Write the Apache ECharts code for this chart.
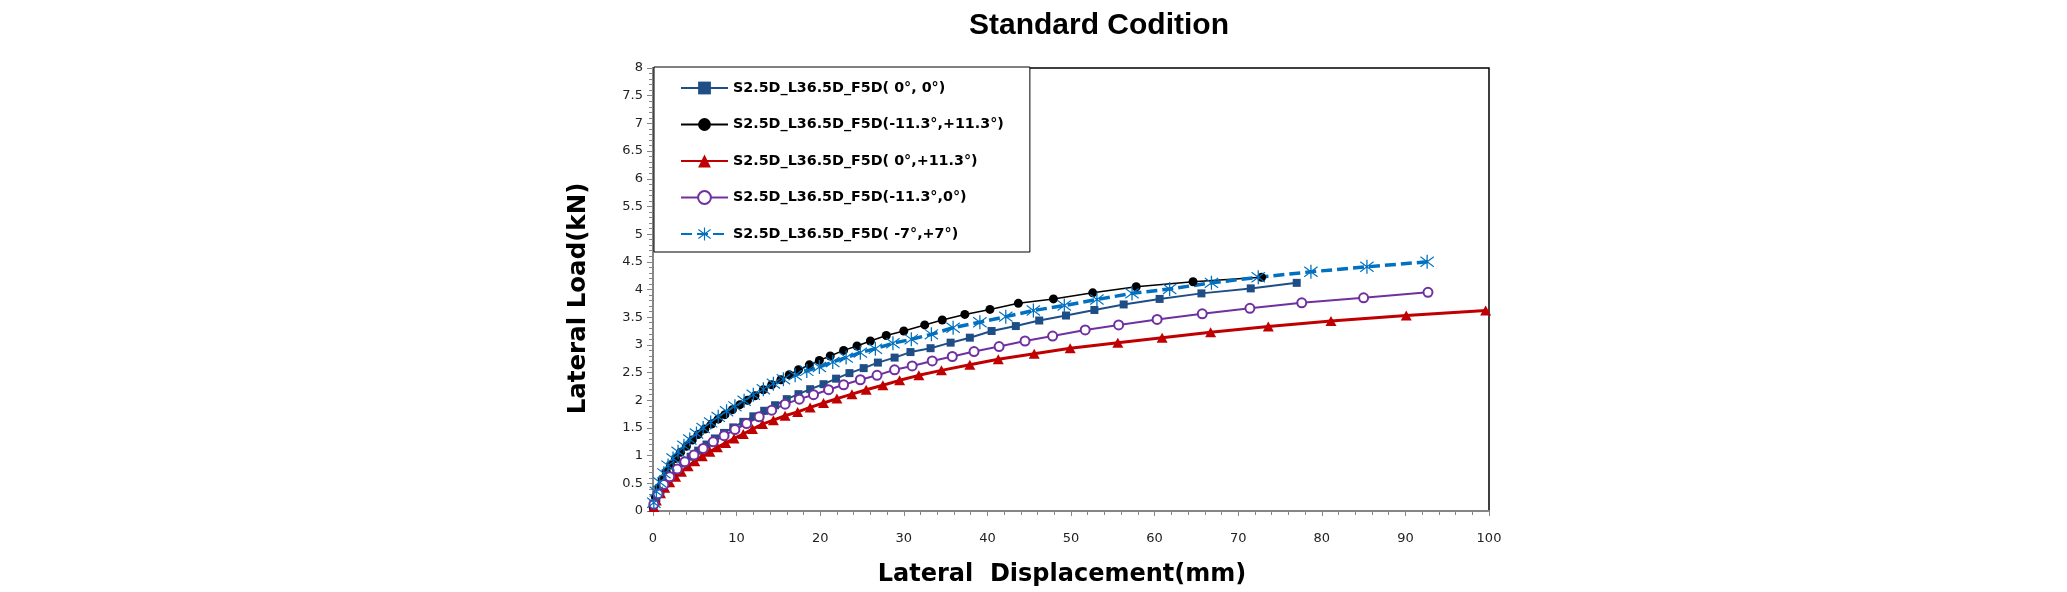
<!DOCTYPE html>
<html>
<head>
<meta charset="utf-8">
<title>Standard Codition</title>
<script src="https://cdn.jsdelivr.net/npm/echarts/dist/echarts.min.js"></script>
<style>
  html, body { margin: 0; padding: 0; background: #fff; }
  #chart { width: 2067px; height: 592px; }
</style>
</head>
<body>
<div id="chart"></div>
<script>
// series names (legend order)
const names = [
  'S2.5D_L36.5D_F5D( 0°, 0°)',
  'S2.5D_L36.5D_F5D(-11.3°,+11.3°)',
  'S2.5D_L36.5D_F5D( 0°,+11.3°)',
  'S2.5D_L36.5D_F5D(-11.3°,0°)',
  'S2.5D_L36.5D_F5D( -7°,+7°)'
]

// ( 0°, 0°) - squares
const sqX = [0, 0.4, 0.9, 1.5, 2.1, 2.8, 3.6, 4.5, 5.4, 6.4, 7.4, 8.5, 9.6, 10.8, 12.0, 13.3, 14.6, 16.0, 17.4, 18.8, 20.4, 21.9, 23.5, 25.2, 26.9, 28.9, 30.8, 33.2, 35.6, 37.9, 40.5, 43.4, 46.2, 49.4, 52.8, 56.3, 60.6, 65.6, 71.5, 77.0]
const sqY = [0.08, 0.23, 0.37, 0.50, 0.62, 0.74, 0.86, 0.98, 1.09, 1.20, 1.31, 1.41, 1.51, 1.61, 1.71, 1.81, 1.91, 2.02, 2.11, 2.20, 2.29, 2.39, 2.49, 2.58, 2.68, 2.77, 2.87, 2.94, 3.04, 3.13, 3.25, 3.34, 3.44, 3.53, 3.63, 3.73, 3.83, 3.93, 4.02, 4.12]

// (-11.3°,+11.3°) - black circles
const bkX = [0, 0.3, 0.7, 1.1, 1.6, 2.1, 2.7, 3.3, 4.0, 4.7, 5.4, 6.2, 7.0, 7.8, 8.6, 9.5, 10.4, 11.3, 12.2, 13.2, 14.2, 15.3, 16.3, 17.4, 18.7, 19.9, 21.2, 22.8, 24.4, 26.0, 27.9, 30.0, 32.5, 34.6, 37.3, 40.3, 43.7, 47.9, 52.6, 57.8, 64.6, 72.8]
const bkY = [0.08, 0.25, 0.42, 0.56, 0.70, 0.83, 0.95, 1.06, 1.17, 1.28, 1.38, 1.48, 1.57, 1.66, 1.74, 1.83, 1.92, 2.00, 2.08, 2.19, 2.28, 2.37, 2.46, 2.55, 2.64, 2.72, 2.80, 2.90, 2.98, 3.07, 3.17, 3.25, 3.36, 3.45, 3.55, 3.64, 3.75, 3.83, 3.94, 4.05, 4.14, 4.22]

// ( 0°,+11.3°) - red triangles
const rdX = [0.1, 0.4, 0.9, 1.4, 2.0, 2.7, 3.4, 4.2, 5.0, 5.9, 6.8, 7.7, 8.7, 9.7, 10.8, 11.9, 13.1, 14.4, 15.8, 17.3, 18.8, 20.4, 22.0, 23.8, 25.5, 27.5, 29.5, 31.8, 34.5, 37.9, 41.3, 45.6, 49.9, 55.6, 60.9, 66.7, 73.6, 81.1, 90.1, 99.6]
const rdY = [0.07, 0.19, 0.32, 0.42, 0.52, 0.62, 0.71, 0.81, 0.90, 0.99, 1.07, 1.15, 1.23, 1.31, 1.39, 1.48, 1.57, 1.64, 1.72, 1.79, 1.87, 1.95, 2.03, 2.11, 2.19, 2.27, 2.36, 2.45, 2.54, 2.64, 2.74, 2.84, 2.94, 3.04, 3.13, 3.23, 3.33, 3.43, 3.53, 3.62]

// (-11.3°,0°) - purple open circles
const ppX = [0.1, 0.6, 1.3, 2.0, 2.9, 3.8, 4.9, 6.0, 7.2, 8.5, 9.8, 11.2, 12.7, 14.2, 15.8, 17.5, 19.2, 21.0, 22.8, 24.8, 26.8, 28.9, 31.0, 33.4, 35.8, 38.4, 41.4, 44.5, 47.8, 51.7, 55.7, 60.3, 65.7, 71.4, 77.6, 85.0, 92.7]
const ppY = [0.12, 0.31, 0.48, 0.62, 0.76, 0.89, 1.01, 1.13, 1.25, 1.36, 1.47, 1.58, 1.70, 1.82, 1.93, 2.02, 2.10, 2.19, 2.28, 2.37, 2.45, 2.55, 2.62, 2.71, 2.79, 2.88, 2.97, 3.07, 3.16, 3.27, 3.36, 3.46, 3.56, 3.66, 3.76, 3.85, 3.95]

// ( -7°,+7°) - blue stars, dashed
const stX = [0.1, 0.4, 0.8, 1.3, 1.8, 2.4, 3.0, 3.7, 4.4, 5.2, 6.0, 6.9, 7.8, 8.8, 9.8, 10.9, 12.0, 13.2, 14.4, 15.6, 17.0, 18.4, 19.9, 21.5, 23.1, 24.8, 26.6, 28.7, 30.9, 33.3, 35.9, 39.1, 42.2, 45.5, 49.2, 53.1, 57.3, 61.8, 66.8, 72.4, 78.7, 85.4, 92.6]
const stY = [0.15, 0.35, 0.52, 0.68, 0.82, 0.95, 1.07, 1.18, 1.29, 1.40, 1.50, 1.60, 1.70, 1.80, 1.89, 1.99, 2.10, 2.20, 2.30, 2.38, 2.45, 2.53, 2.60, 2.69, 2.77, 2.86, 2.93, 3.03, 3.10, 3.19, 3.31, 3.41, 3.51, 3.62, 3.71, 3.82, 3.93, 4.01, 4.12, 4.22, 4.32, 4.41, 4.50]

function pairs(xs, ys) {
  let out = []
  for (let i = 0; i < Math.min(xs.length, ys.length); i++) out.push([xs[i], ys[i]])
  return out
}

// asterisk marker like excel's star
const starPath = 'path://M9.2,0 L10.8,0 L10.8,20 L9.2,20 Z M1.2,3.6 L2.0,2.2 L18.8,16.4 L18.0,17.8 Z M18.0,2.2 L18.8,3.6 L2.0,17.8 L1.2,16.4 Z'

const wideFont = '"DejaVu Sans", sans-serif'

let chart = echarts.init(document.getElementById('chart'))

let option = {
  animation: false,
  title: {
    text: 'Standard Codition',
    left: 1094,
    top: 6,
    textAlign: 'center',
    textStyle: {
      fontFamily: '"Liberation Sans", sans-serif',
      fontSize: 30,
      fontWeight: 'bold',
      color: '#000'
    }
  },
  legend: {
    orient: 'vertical',
    left: 654,
    top: 67,
    padding: [13, 26, 10, 26],
    itemGap: 20.5,
    itemWidth: 47,
    itemHeight: 16,
    backgroundColor: '#fff',
    borderColor: '#000',
    borderWidth: 1,
    textStyle: {
      fontFamily: wideFont,
      fontSize: 14.3,
      lineHeight: 16,
      fontWeight: 'bold',
      color: '#000'
    },
    data: names
  },
  grid: {
    left: 653,
    right: 578,
    top: 68,
    bottom: 80,
    show: true,
    borderColor: '#000',
    borderWidth: 1.5,
    backgroundColor: '#fff'
  },
  xAxis: {
    type: 'value',
    min: 0,
    max: 100,
    interval: 10,
    name: 'Lateral  Displacement(mm)',
    nameLocation: 'middle',
    nameGap: 52,
    nameTextStyle: {
      fontFamily: wideFont,
      fontSize: 24,
      fontWeight: 'bold',
      color: '#000',
      padding: [0, 18, 0, 0]
    },
    axisLine: { lineStyle: { color: '#868686', width: 2 } },
    axisTick: { inside: false, length: 5, lineStyle: { color: '#868686' } },
    minorTick: { show: true, splitNumber: 5, length: 4, lineStyle: { color: '#868686' } },
    splitLine: { show: false },
    axisLabel: {
      margin: 21,
      fontFamily: wideFont,
      fontSize: 13,
      color: '#222'
    }
  },
  yAxis: {
    type: 'value',
    min: 0,
    max: 8,
    interval: 0.5,
    name: 'Lateral Load(kN)',
    nameLocation: 'middle',
    nameGap: 62,
    nameTextStyle: {
      fontFamily: wideFont,
      fontSize: 24.5,
      fontWeight: 'bold',
      color: '#000',
      padding: [0, 18, 0, 0]
    },
    axisLine: { show: true, lineStyle: { color: '#868686', width: 2 } },
    axisTick: { show: true, length: 6, lineStyle: { color: '#868686' } },
    minorTick: { show: true, splitNumber: 5, length: 4, lineStyle: { color: '#868686' } },
    splitLine: { show: false },
    axisLabel: {
      margin: 10,
      fontFamily: wideFont,
      fontSize: 13,
      color: '#222'
    }
  },
  series: [
    {
      name: names[0],
      type: 'line',
      data: pairs(sqX, sqY),
      symbol: 'rect',
      symbolSize: 8,
      color: '#1F4E86',
      lineStyle: { width: 2, color: '#1F4E86' },
      itemStyle: { color: '#1F4E86' }
    },
    {
      name: names[1],
      type: 'line',
      data: pairs(bkX, bkY),
      symbol: 'circle',
      symbolSize: 9,
      color: '#000',
      lineStyle: { width: 1.5, color: '#000' },
      itemStyle: { color: '#000' }
    },
    {
      name: names[2],
      type: 'line',
      data: pairs(rdX, rdY),
      symbol: 'triangle',
      symbolSize: [11, 10],
      color: '#C00000',
      lineStyle: { width: 3, color: '#C00000' },
      itemStyle: { color: '#C00000' }
    },
    {
      name: names[3],
      type: 'line',
      data: pairs(ppX, ppY),
      symbol: 'emptyCircle',
      symbolSize: 9,
      color: '#7030A0',
      lineStyle: { width: 2, color: '#7030A0' },
      itemStyle: { color: '#7030A0', borderColor: '#7030A0', borderWidth: 1.2 }
    },
    {
      name: names[4],
      type: 'line',
      data: pairs(stX, stY),
      symbol: starPath,
      symbolSize: 14,
      color: '#0070C0',
      lineStyle: { width: 3.5, color: '#0070C0', type: [11, 5] },
      itemStyle: { color: '#0070C0' }
    }
  ]
}

chart.setOption(option)
</script>
</body>
</html>
